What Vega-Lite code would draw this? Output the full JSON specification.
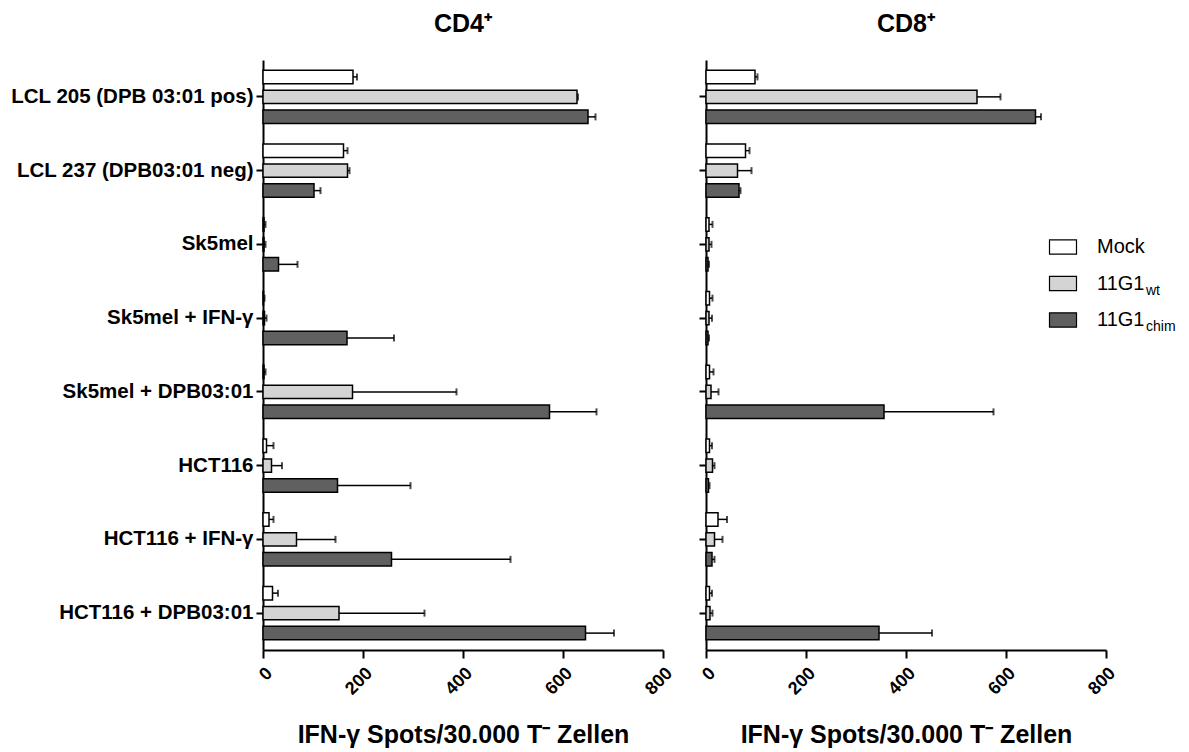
{
  "$schema": "https://vega.github.io/schema/vega-lite/v6.json",
  "background": "white",
  "padding": {"left": 10, "top": 12, "right": 5, "bottom": 5},
  "config": {
    "font": "Liberation Sans",
    "view": {"stroke": null},
    "title": {"fontSize": 25, "fontWeight": "bold", "color": "black", "offset": 23},
    "axis": {
      "domainColor": "black", "domainWidth": 2, "tickColor": "black", "tickWidth": 2,
      "labelColor": "black", "labelFontWeight": "bold", "titleColor": "black", "grid": false
    }
  },
  "data": {"values": [
    {"panel": "CD4", "cell": "LCL 205 (DPB 03:01 pos)", "series": "Mock", "value": 180, "high": 188},
    {"panel": "CD4", "cell": "LCL 205 (DPB 03:01 pos)", "series": "11G1wt", "value": 628, "high": 630},
    {"panel": "CD4", "cell": "LCL 205 (DPB 03:01 pos)", "series": "11G1chim", "value": 650, "high": 665},
    {"panel": "CD4", "cell": "LCL 237 (DPB03:01 neg)", "series": "Mock", "value": 161, "high": 169},
    {"panel": "CD4", "cell": "LCL 237 (DPB03:01 neg)", "series": "11G1wt", "value": 169, "high": 173},
    {"panel": "CD4", "cell": "LCL 237 (DPB03:01 neg)", "series": "11G1chim", "value": 102, "high": 115},
    {"panel": "CD4", "cell": "Sk5mel", "series": "Mock", "value": 2, "high": 5},
    {"panel": "CD4", "cell": "Sk5mel", "series": "11G1wt", "value": 2, "high": 5},
    {"panel": "CD4", "cell": "Sk5mel", "series": "11G1chim", "value": 31, "high": 69},
    {"panel": "CD4", "cell": "Sk5mel + IFN-γ", "series": "Mock", "value": 1, "high": 3},
    {"panel": "CD4", "cell": "Sk5mel + IFN-γ", "series": "11G1wt", "value": 3, "high": 7},
    {"panel": "CD4", "cell": "Sk5mel + IFN-γ", "series": "11G1chim", "value": 168, "high": 262},
    {"panel": "CD4", "cell": "Sk5mel + DPB03:01 ", "series": "Mock", "value": 2, "high": 5},
    {"panel": "CD4", "cell": "Sk5mel + DPB03:01 ", "series": "11G1wt", "value": 179, "high": 387},
    {"panel": "CD4", "cell": "Sk5mel + DPB03:01 ", "series": "11G1chim", "value": 573, "high": 667},
    {"panel": "CD4", "cell": "HCT116", "series": "Mock", "value": 7, "high": 21},
    {"panel": "CD4", "cell": "HCT116", "series": "11G1wt", "value": 17, "high": 38},
    {"panel": "CD4", "cell": "HCT116", "series": "11G1chim", "value": 149, "high": 295},
    {"panel": "CD4", "cell": "HCT116 + IFN-γ", "series": "Mock", "value": 12, "high": 21},
    {"panel": "CD4", "cell": "HCT116 + IFN-γ", "series": "11G1wt", "value": 67, "high": 145},
    {"panel": "CD4", "cell": "HCT116 + IFN-γ", "series": "11G1chim", "value": 257, "high": 495},
    {"panel": "CD4", "cell": "HCT116 + DPB03:01", "series": "Mock", "value": 19, "high": 30},
    {"panel": "CD4", "cell": "HCT116 + DPB03:01", "series": "11G1wt", "value": 152, "high": 323},
    {"panel": "CD4", "cell": "HCT116 + DPB03:01", "series": "11G1chim", "value": 645, "high": 702},
    {"panel": "CD8", "cell": "LCL 205 (DPB 03:01 pos)", "series": "Mock", "value": 98, "high": 103},
    {"panel": "CD8", "cell": "LCL 205 (DPB 03:01 pos)", "series": "11G1wt", "value": 542, "high": 589},
    {"panel": "CD8", "cell": "LCL 205 (DPB 03:01 pos)", "series": "11G1chim", "value": 659, "high": 670},
    {"panel": "CD8", "cell": "LCL 237 (DPB03:01 neg)", "series": "Mock", "value": 79, "high": 87},
    {"panel": "CD8", "cell": "LCL 237 (DPB03:01 neg)", "series": "11G1wt", "value": 63, "high": 91},
    {"panel": "CD8", "cell": "LCL 237 (DPB03:01 neg)", "series": "11G1chim", "value": 66, "high": 69},
    {"panel": "CD8", "cell": "Sk5mel", "series": "Mock", "value": 6, "high": 13},
    {"panel": "CD8", "cell": "Sk5mel", "series": "11G1wt", "value": 6, "high": 11},
    {"panel": "CD8", "cell": "Sk5mel", "series": "11G1chim", "value": 4, "high": 6},
    {"panel": "CD8", "cell": "Sk5mel + IFN-γ", "series": "Mock", "value": 7, "high": 13},
    {"panel": "CD8", "cell": "Sk5mel + IFN-γ", "series": "11G1wt", "value": 6, "high": 12},
    {"panel": "CD8", "cell": "Sk5mel + IFN-γ", "series": "11G1chim", "value": 4, "high": 6},
    {"panel": "CD8", "cell": "Sk5mel + DPB03:01 ", "series": "Mock", "value": 7, "high": 15},
    {"panel": "CD8", "cell": "Sk5mel + DPB03:01 ", "series": "11G1wt", "value": 10, "high": 25},
    {"panel": "CD8", "cell": "Sk5mel + DPB03:01 ", "series": "11G1chim", "value": 356, "high": 575},
    {"panel": "CD8", "cell": "HCT116", "series": "Mock", "value": 7, "high": 12},
    {"panel": "CD8", "cell": "HCT116", "series": "11G1wt", "value": 13, "high": 17},
    {"panel": "CD8", "cell": "HCT116", "series": "11G1chim", "value": 5, "high": 7},
    {"panel": "CD8", "cell": "HCT116 + IFN-γ", "series": "Mock", "value": 24, "high": 42},
    {"panel": "CD8", "cell": "HCT116 + IFN-γ", "series": "11G1wt", "value": 17, "high": 33},
    {"panel": "CD8", "cell": "HCT116 + IFN-γ", "series": "11G1chim", "value": 12, "high": 17},
    {"panel": "CD8", "cell": "HCT116 + DPB03:01", "series": "Mock", "value": 7, "high": 12},
    {"panel": "CD8", "cell": "HCT116 + DPB03:01", "series": "11G1wt", "value": 8, "high": 13},
    {"panel": "CD8", "cell": "HCT116 + DPB03:01", "series": "11G1chim", "value": 346, "high": 452}
  ]},
  "spacing": 22,
  "hconcat": [
    {
      "width": 400, "height": 590,
      "title": "CD4⁺",
      "transform": [{"filter": "datum.panel === 'CD4'"}],
      "encoding": {
        "y": {"field": "cell", "type": "nominal",
              "sort": ["LCL 205 (DPB 03:01 pos)", "LCL 237 (DPB03:01 neg)", "Sk5mel", "Sk5mel + IFN-γ", "Sk5mel + DPB03:01 ", "HCT116", "HCT116 + IFN-γ", "HCT116 + DPB03:01"],
              "scale": {"paddingInner": 0.275, "paddingOuter": 0.1375},
              "axis": {"title": null, "labelFontSize": 20.5, "labelPadding": 3, "tickSize": 7, "labelLimit": 400}},
        "yOffset": {"field": "series", "type": "nominal", "sort": ["Mock", "11G1wt", "11G1chim"],
                    "scale": {"paddingInner": 0.325, "paddingOuter": 0}}
      },
      "layer": [
        {"mark": {"type": "bar", "stroke": "black", "strokeWidth": 1.5},
         "encoding": {
           "x": {"field": "value", "type": "quantitative", "scale": {"domain": [0, 800], "nice": false},
                 "axis": {"title": "IFN-γ Spots/30.000 T⁻ Zellen", "titleFontSize": 25, "titleFontWeight": "bold", "titlePadding": 25,
                          "values": [0, 200, 400, 600, 800], "labelAngle": -45, "labelFontSize": 18, "tickSize": 8, "labelPadding": 6}},
           "fill": {"field": "series", "type": "nominal", "scale": {"domain": ["Mock", "11G1wt", "11G1chim"], "range": ["#ffffff", "#d4d4d4", "#606060"]}, "legend": null}
         }},
        {"mark": {"type": "rule", "color": "black", "strokeWidth": 1.5},
         "encoding": {"x": {"field": "value", "type": "quantitative"}, "x2": {"field": "high"}}},
        {"mark": {"type": "tick", "color": "black", "size": 7, "thickness": 2},
         "encoding": {"x": {"field": "high", "type": "quantitative"}}}
      ]
    },
    {
      "width": 400, "height": 590,
      "title": "CD8⁺",
      "layer": [
        {
          "transform": [{"filter": "datum.panel === 'CD8'"}],
          "encoding": {
            "y": {"field": "cell", "type": "nominal",
                  "sort": ["LCL 205 (DPB 03:01 pos)", "LCL 237 (DPB03:01 neg)", "Sk5mel", "Sk5mel + IFN-γ", "Sk5mel + DPB03:01 ", "HCT116", "HCT116 + IFN-γ", "HCT116 + DPB03:01"],
                  "scale": {"paddingInner": 0.275, "paddingOuter": 0.1375},
                  "axis": {"title": null, "labels": false, "tickSize": 7}},
            "yOffset": {"field": "series", "type": "nominal", "sort": ["Mock", "11G1wt", "11G1chim"],
                        "scale": {"paddingInner": 0.325, "paddingOuter": 0}}
          },
          "layer": [
            {"mark": {"type": "bar", "stroke": "black", "strokeWidth": 1.5},
             "encoding": {
               "x": {"field": "value", "type": "quantitative", "scale": {"domain": [0, 800], "nice": false},
                     "axis": {"title": "IFN-γ Spots/30.000 T⁻ Zellen", "titleFontSize": 25, "titleFontWeight": "bold", "titlePadding": 25,
                              "values": [0, 200, 400, 600, 800], "labelAngle": -45, "labelFontSize": 18, "tickSize": 8, "labelPadding": 6}},
               "fill": {"field": "series", "type": "nominal", "scale": {"domain": ["Mock", "11G1wt", "11G1chim"], "range": ["#ffffff", "#d4d4d4", "#606060"]}, "legend": null}
             }},
            {"mark": {"type": "rule", "color": "black", "strokeWidth": 1.5},
             "encoding": {"x": {"field": "value", "type": "quantitative"}, "x2": {"field": "high"}}},
            {"mark": {"type": "tick", "color": "black", "size": 7, "thickness": 2},
             "encoding": {"x": {"field": "high", "type": "quantitative"}}}
          ]
        },
        {
          "data": {"values": [
            {"series": "Mock", "main": "Mock", "sub": ""},
            {"series": "11G1wt", "main": "11G1", "sub": "wt"},
            {"series": "11G1chim", "main": "11G1", "sub": "chim"}
          ]},
          "encoding": {
            "y": {"field": "series", "type": "nominal", "sort": ["Mock", "11G1wt", "11G1chim"],
                  "scale": {"type": "point", "padding": 0, "range": [187, 260]}, "axis": null}
          },
          "layer": [
            {"mark": {"type": "point", "shape": "M-1,-0.53H1V0.53H-1Z", "size": 729, "filled": true, "stroke": "black", "strokeWidth": 1.2, "opacity": 1},
             "encoding": {
               "x": {"datum": 714, "type": "quantitative"},
               "fill": {"field": "series", "type": "nominal", "legend": null}
             }},
            {"mark": {"type": "text", "align": "left", "baseline": "middle", "fontSize": 20, "color": "black"},
             "encoding": {"x": {"datum": 782, "type": "quantitative"}, "text": {"field": "main"}}},
            {"mark": {"type": "text", "align": "left", "baseline": "middle", "fontSize": 14, "color": "black", "dx": 49, "dy": 7},
             "encoding": {"x": {"datum": 782, "type": "quantitative"}, "text": {"field": "sub"}}}
          ]
        }
      ],
      "resolve": {"scale": {"y": "independent"}}
    }
  ]
}
